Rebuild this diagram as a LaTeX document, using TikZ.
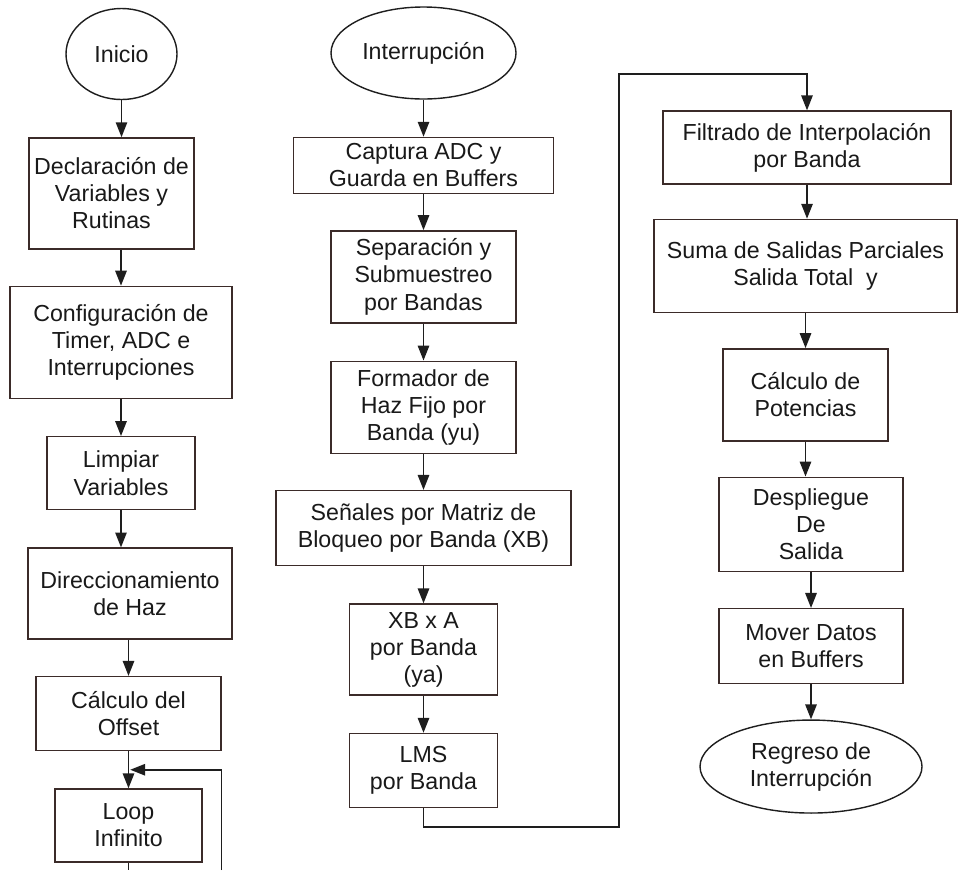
\documentclass[tikz,border=0pt]{standalone}
\usepackage{fontspec}
\setmainfont{Liberation Sans}
\usetikzlibrary{shapes.geometric,arrows.meta,positioning,calc}
\definecolor{edge}{HTML}{3B2B29}
\definecolor{wire}{HTML}{1E1E1E}
\tikzset{
  box/.style={rectangle,draw=edge,line width=0.8pt,fill=white,
              align=center,inner sep=1pt,text=black!90,
              font=\fontsize{13.2}{15.4}\selectfont},
  term/.style={ellipse,draw=wire,line width=0.8pt,fill=white,
               align=center,inner sep=0pt,text=black!90,
               font=\fontsize{13.2}{15.4}\selectfont},
  arr/.style={-{Triangle[length=8.5pt,width=6.5pt]},line width=0.9pt,color=wire},
  ln/.style={line width=0.9pt,color=wire},
}

\begin{document}
\begin{tikzpicture}[node distance=0.74cm]

  \useasboundingbox (0,0) rectangle (19.18,-17.4);
  \coordinate (bot) at (0,-17.4);

  %% ── programa principal ───────────────────────────────────────────────────
  \node[term,minimum width=2.22cm,minimum height=1.82cm] (ini) at (2.43,-1.08) {Inicio};
  \node[box,below=of ini,xshift=-0.2cm,minimum width=3.3cm,minimum height=2.22cm]
        (dec) {Declaración de\\Variables y\\Rutinas};
  \node[box,below=0.72cm of dec,xshift=0.19cm,minimum width=4.44cm,minimum height=2.24cm]
        (cfg) {Configuración de\\Timer, ADC e\\Interrupciones};
  \node[box,below=of cfg,minimum width=2.96cm,minimum height=1.46cm]
        (lim) {Limpiar\\Variables};
  \node[box,below=of lim,xshift=0.18cm,minimum width=4.08cm,minimum height=1.82cm]
        (dir) {Direccionamiento\\de Haz};
  \node[box,below=0.72cm of dir,xshift=-0.03cm,minimum width=3.7cm,minimum height=1.48cm]
        (cof) {Cálculo del\\Offset};
  \node[box,below=of cof,minimum width=2.94cm,minimum height=1.46cm]
        (lp) {Loop\\Infinito};

  %% ── rutina de interrupción ───────────────────────────────────────────────
  \node[term,minimum width=3.7cm,minimum height=1.84cm] (irq) at (8.47,-1.06) {Interrupción};
  \node[box,below=of irq,minimum width=5.2cm,minimum height=1.12cm]
        (cap) {Captura ADC y\\Guarda en Buffers};
  \node[box,below=0.72cm of cap,minimum width=3.7cm,minimum height=1.84cm]
        (sep) {Separación y\\Submuestreo\\por Bandas};
  \node[box,below=of sep,minimum width=3.7cm,minimum height=1.84cm]
        (fmd) {Formador de\\Haz Fijo por\\Banda (yu)};
  \node[box,below=0.72cm of fmd,minimum width=5.9cm,minimum height=1.5cm]
        (sen) {Señales por Matriz de\\Bloqueo por Banda (XB)};
  \node[box,below=of sen,minimum width=2.96cm,minimum height=1.82cm]
        (xba) {XB x A\\por Banda\\(ya)};
  \node[box,below=of xba,minimum width=2.96cm,minimum height=1.48cm]
        (lms) {LMS\\por Banda};

  %% ── continuación ─────────────────────────────────────────────────────────
  \node[box,minimum width=5.76cm,minimum height=1.46cm]
        (fil) at (16.14,-2.95) {Filtrado de Interpolación\\por Banda};
  \node[box,below=0.68cm of fil,xshift=-0.03cm,minimum width=6.06cm,minimum height=1.86cm]
        (sum) {Suma de Salidas Parciales\\Salida Total\ \ y};
  \node[box,below=0.7cm of sum,minimum width=3.3cm,minimum height=1.84cm]
        (pot) {Cálculo de\\Potencias};
  \node[box,below=0.7cm of pot,xshift=0.11cm,minimum width=3.68cm,minimum height=1.88cm]
        (dsp) {Despliegue\\De\\Salida};
  \node[box,below=0.72cm of dsp,minimum width=3.68cm,minimum height=1.5cm]
        (mov) {Mover Datos\\en Buffers};
  \node[term,below=0.7cm of mov,minimum width=4.44cm,minimum height=1.86cm]
        (reg) {Regreso de\\Interrupción};

  %% ── flechas ──────────────────────────────────────────────────────────────
  \draw[arr] (ini.south) -- (ini.south |- dec.north);
  \draw[arr] (dec.south -| cfg) -- (cfg.north);
  \draw[arr] (cfg.south) -- (lim.north);
  \draw[arr] (lim.south) -- (lim.south |- dir.north);
  \draw[arr] (dir.south -| cof) -- (cof.north);
  \draw[arr] (cof.south) -- (lp.north);

  \draw[arr] (irq) -- (cap);
  \draw[arr] (cap) -- (sep);
  \draw[arr] (sep) -- (fmd);
  \draw[arr] (fmd) -- (sen);
  \draw[arr] (sen) -- (xba);
  \draw[arr] (xba) -- (lms);

  \draw[arr] (fil.south) -- (fil.south |- sum.north);
  \draw[arr] (sum.south -| pot) -- (pot.north);
  \draw[arr] (pot.south) -- (pot.south |- dsp.north);
  \draw[arr] (dsp) -- (mov);
  \draw[arr] (mov) -- (reg);

  %% ── lazo infinito ────────────────────────────────────────────────────────
  \coordinate (mrg) at ($(cof.south)!.5!(lp.north)$);
  \draw[ln] (lp.south) -- (lp.south |- bot);
  \draw[arr] (cof.east |- bot) |- ([xshift=1pt]mrg);

  %% ── salto a la tercera columna ───────────────────────────────────────────
  \coordinate (jmp) at (12.38,-1.48);
  \draw[arr] (lms.south) -- ++(0,-0.38) -| (jmp) -| (fil.north);

\end{tikzpicture}
\end{document}
